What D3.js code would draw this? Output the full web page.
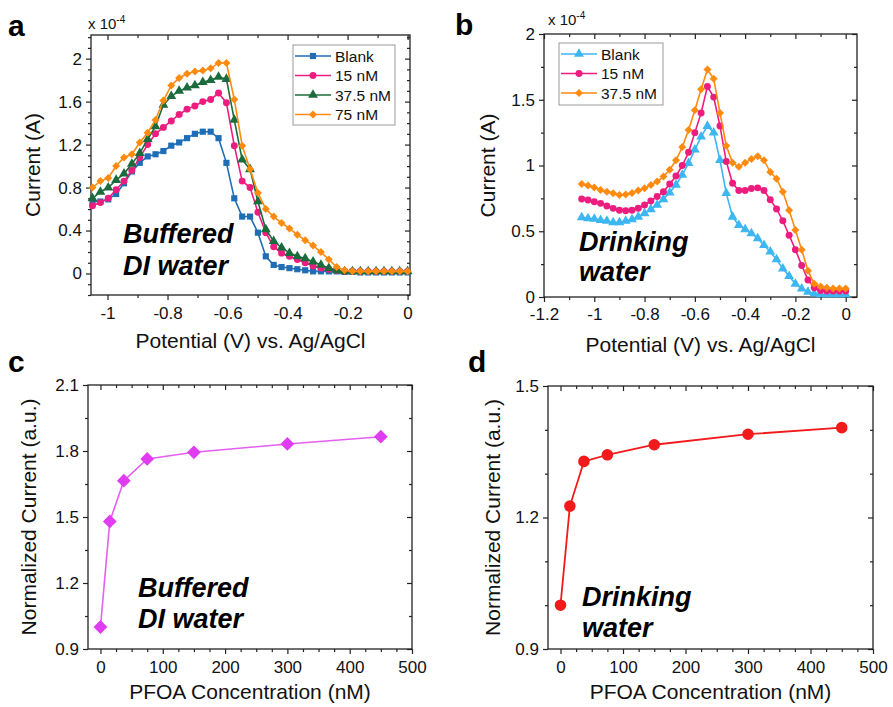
<!DOCTYPE html>
<html>
<head>
<meta charset="utf-8">
<script src="https://cdn.jsdelivr.net/npm/d3@7"></script>
<style>
  body { margin: 0; background: #fff; }
</style>
</head>
<body>
<svg id="fig" width="893" height="707"></svg>
<script>
const FONT = '"Liberation Sans", Arial, Helvetica, sans-serif';

// ---- panel a : buffered DI water, current x 1e-4 A ----
const potStartA = -1.05, potStepA = 0.02625;
const blankA = [0.67, 0.67, 0.69, 0.74, 0.84, 0.95, 1.03, 1.09, 1.11, 1.14,
  1.19, 1.22, 1.26, 1.30, 1.32, 1.32, 1.26, 1.03, 0.70, 0.53,
  0.53, 0.38, 0.16, 0.08, 0.06, 0.05, 0.04, 0.03, 0.02, 0.02,
  0.02, 0.02, 0.015, 0.015, 0.01, 0.01, 0.01, 0.01, 0.01, 0.01, 0.01];
const nm15A = [0.63, 0.66, 0.70, 0.78, 0.86, 0.96, 1.08, 1.20, 1.30, 1.36,
  1.42, 1.48, 1.53, 1.56, 1.60, 1.62, 1.68, 1.59, 1.19, 0.86,
  0.80, 0.57, 0.38, 0.25, 0.19, 0.16, 0.13, 0.10, 0.07, 0.05,
  0.04, 0.03, 0.02, 0.02, 0.02, 0.02, 0.02, 0.02, 0.02, 0.02, 0.02];
const nm375A = [0.70, 0.76, 0.80, 0.87, 0.93, 1.02, 1.12, 1.25, 1.37, 1.57,
  1.65, 1.70, 1.73, 1.75, 1.78, 1.80, 1.83, 1.81, 1.43, 1.06,
  0.97, 0.67, 0.41, 0.30, 0.24, 0.19, 0.16, 0.14, 0.11, 0.08,
  0.05, 0.03, 0.02, 0.02, 0.02, 0.02, 0.02, 0.02, 0.02, 0.02, 0.02];
const nm75A = [0.80, 0.86, 0.89, 1.00, 1.08, 1.11, 1.22, 1.31, 1.43, 1.61,
  1.75, 1.82, 1.86, 1.88, 1.89, 1.91, 1.96, 1.96, 1.62, 1.19,
  0.97, 0.75, 0.60, 0.53, 0.47, 0.42, 0.36, 0.31, 0.26, 0.20,
  0.13, 0.06, 0.03, 0.02, 0.02, 0.02, 0.02, 0.02, 0.02, 0.02, 0.02];
const namesA = ['Blank', '15 nM', '37.5 nM', '75 nM'];

// ---- panel b : drinking water ----
const potStartB = -1.05, potStepB = 0.025;
const blankB = [0.606, 0.598, 0.593, 0.585, 0.578, 0.567, 0.567, 0.578, 0.59, 0.61,
  0.636, 0.667, 0.70, 0.743, 0.794, 0.852, 0.929, 1.018, 1.12, 1.22,
  1.30, 1.25, 1.04, 0.79, 0.61, 0.547, 0.514, 0.483, 0.445, 0.394,
  0.344, 0.285, 0.216, 0.158, 0.10, 0.064, 0.038, 0.025, 0.02, 0.02,
  0.02, 0.02, 0.02];
const nm15B = [0.746, 0.738, 0.725, 0.712, 0.692, 0.674, 0.66, 0.656, 0.66, 0.675,
  0.70, 0.73, 0.765, 0.80, 0.86, 0.92, 1.00, 1.10, 1.25, 1.40,
  1.60, 1.52, 1.30, 1.03, 0.865, 0.81, 0.81, 0.825, 0.83, 0.81,
  0.74, 0.67, 0.58, 0.47, 0.36, 0.24, 0.13, 0.07, 0.05, 0.045,
  0.045, 0.045, 0.045];
const nm375B = [0.86, 0.847, 0.832, 0.814, 0.80, 0.789, 0.776, 0.78, 0.79, 0.81,
  0.827, 0.852, 0.878, 0.916, 0.967, 1.04, 1.14, 1.27, 1.42, 1.58,
  1.73, 1.66, 1.40, 1.15, 1.02, 0.99, 1.02, 1.05, 1.07, 1.04,
  0.95, 0.90, 0.80, 0.66, 0.51, 0.36, 0.20, 0.10, 0.08, 0.07,
  0.065, 0.065, 0.065];
const namesB = ['Blank', '15 nM', '37.5 nM'];

// ---- panels c, d : normalized current vs PFOA ----
const concs = [0, 15, 37.5, 75, 150, 300, 450];
const normBuffered = [1.0, 1.48, 1.665, 1.764, 1.794, 1.832, 1.865];
const normDrinking = [1.0, 1.226, 1.328, 1.343, 1.366, 1.390, 1.405];

// tick labels
const ticksAx = [-1, -0.8, -0.6, -0.4, -0.2, 0];
const ticksAy = [0, 0.4, 0.8, 1.2, 1.6, 2];
const ticksBx = [-1.2, -1, -0.8, -0.6, -0.4, -0.2, 0];
const ticksBy = [0, 0.5, 1, 1.5, 2];
const ticksConc = [0, 100, 200, 300, 400, 500];
const ticksCy = [0.9, 1.2, 1.5, 1.8, 2.1];
const ticksDy = [0.9, 1.2, 1.5];

const svg = d3.select('#fig');

function minorTicks(domain, step, majors) {
  const lo = Math.min(...domain), hi = Math.max(...domain);
  return d3.range(Math.ceil(lo / step - 1e-6), Math.floor(hi / step + 1e-6) + 1)
    .map(k => +(k * step).toFixed(5))
    .filter(v => !majors.some(m => Math.abs(m - v) < 1e-6));
}

function drawAxes(x, y, o) {
  const [xl, xr] = x.range(), [yb, yt] = y.range();
  const xMin = minorTicks(x.domain(), o.xMinor, o.xTicks);
  const yMin = minorTicks(y.domain(), o.yMinor, o.yTicks);
  const fmt = d => String(d);
  const style = sel => {
    sel.select('.domain').remove();
    sel.selectAll('line').attr('stroke', '#222').attr('stroke-width', 1.2);
    sel.selectAll('text').attr('font-size', o.tickFont).attr('font-family', FONT).attr('fill', '#111');
  };
  const g = svg.append('g');
  g.append('g').attr('transform', `translate(0,${yb})`)
    .call(d3.axisBottom(x).tickValues(o.xTicks).tickSize(5).tickPadding(o.xPad).tickFormat(fmt)).call(style);
  g.append('g').attr('transform', `translate(0,${yb})`)
    .call(d3.axisBottom(x).tickValues(xMin).tickSize(3).tickFormat('')).call(style);
  g.append('g').attr('transform', `translate(0,${yt})`)
    .call(d3.axisTop(x).tickValues(o.xTicks).tickSize(-5).tickFormat('')).call(style);
  g.append('g').attr('transform', `translate(0,${yt})`)
    .call(d3.axisTop(x).tickValues(xMin).tickSize(-3).tickFormat('')).call(style);
  g.append('g').attr('transform', `translate(${xl},0)`)
    .call(d3.axisLeft(y).tickValues(o.yTicks).tickSize(5).tickPadding(o.yPad).tickFormat(fmt)).call(style);
  g.append('g').attr('transform', `translate(${xl},0)`)
    .call(d3.axisLeft(y).tickValues(yMin).tickSize(3).tickFormat('')).call(style);
  g.append('g').attr('transform', `translate(${xr},0)`)
    .call(d3.axisRight(y).tickValues(o.yTicks).tickSize(-5).tickFormat('')).call(style);
  g.append('g').attr('transform', `translate(${xr},0)`)
    .call(d3.axisRight(y).tickValues(yMin).tickSize(-3).tickFormat('')).call(style);
  g.append('rect').attr('x', xl).attr('y', yt).attr('width', xr - xl).attr('height', yb - yt)
    .attr('fill', 'none').attr('stroke', '#222').attr('stroke-width', 1.3);

  // axis titles
  svg.append('text').attr('x', (xl + xr) / 2).attr('y', o.xTitleY).attr('text-anchor', 'middle')
    .attr('font-family', FONT).attr('font-size', 21).attr('fill', '#111').text(o.xTitle);
  svg.append('text').attr('transform', `translate(${o.yTitleX},${(yb + yt) / 2}) rotate(-90)`)
    .attr('text-anchor', 'middle').attr('font-family', FONT).attr('font-size', 21).attr('fill', '#111').text(o.yTitle);
}

const SQUARE = d3.symbolSquare, CIRCLE = d3.symbolCircle, TRI = d3.symbolTriangle;

function marker(sel, shape, size) {
  // diamonds are squares turned 45 degrees, as in Origin
  const type = shape === 'diamond' ? SQUARE : shape;
  sel.attr('d', d3.symbol().type(type).size(size)());
}

function drawSeries(x, y, xs, ys, s) {
  const pts = xs.map((v, i) => [v, ys[i]]);
  svg.append('path').datum(pts)
    .attr('fill', 'none').attr('stroke', s.line || s.color).attr('stroke-width', s.lw || 1.6)
    .attr('d', d3.line().x(d => x(d[0])).y(d => y(d[1])));
  svg.append('g').selectAll('path').data(pts).join('path')
    .call(marker, s.shape, s.size)
    .attr('transform', d => `translate(${x(d[0])},${y(d[1])})` + (s.shape === 'diamond' ? ' rotate(45)' : ''))
    .attr('fill', s.color);
}

function drawLegend(x0, y0, w, h, rows, names) {
  svg.append('rect').attr('x', x0).attr('y', y0).attr('width', w).attr('height', h)
    .attr('fill', '#fff').attr('stroke', '#9a9a9a').attr('stroke-width', 1);
  rows.forEach((s, i) => {
    const cy = y0 + 11 + i * 19.5;
    svg.append('line').attr('x1', x0 + 2).attr('x2', x0 + 38).attr('y1', cy).attr('y2', cy)
      .attr('stroke', s.color).attr('stroke-width', 1.6);
    svg.append('path').call(marker, s.shape, s.size)
      .attr('transform', `translate(${x0 + 20},${cy})` + (s.shape === 'diamond' ? ' rotate(45)' : ''))
      .attr('fill', s.color);
    svg.append('text').attr('x', x0 + 42).attr('y', cy + 5.5).attr('font-family', FONT)
      .attr('font-size', 15.5).attr('fill', '#111').text(names[i]);
  });
}

function label(x, y, txt, size, weight, italic) {
  svg.append('text').attr('x', x).attr('y', y).attr('font-family', FONT)
    .attr('font-size', size).attr('font-weight', weight || 'normal')
    .attr('font-style', italic ? 'italic' : 'normal').attr('fill', '#000').text(txt);
}

function scaleLabel(x, y) {
  const t = svg.append('text').attr('x', x).attr('y', y).attr('font-family', FONT)
    .attr('font-size', 15).attr('fill', '#111');
  t.append('tspan').text('x 10');
  t.append('tspan').attr('font-size', 10).attr('dy', -6).text('-4');
}

// ---- panel a ----
const xA = d3.scaleLinear().domain([-1.055, 0.008]).range([91, 410]);
const yA = d3.scaleLinear().domain([-0.2, 2.22]).range([295, 35]);
drawAxes(xA, yA, { xTicks: ticksAx, xMinor: 0.1, yTicks: ticksAy, yMinor: 0.1, tickFont: 17,
  xPad: 7, yPad: 4, xTitle: 'Potential (V) vs. Ag/AgCl', xTitleY: 348, yTitle: 'Current (A)', yTitleX: 40 });
const potA = blankA.map((_, i) => potStartA + i * potStepA);
const seriesA = [
  { color: '#1f6db5', shape: SQUARE, size: 38 },
  { color: '#ec1d7f', shape: CIRCLE, size: 38 },
  { color: '#1c6b3c', shape: TRI, size: 42 },
  { color: '#ff8a10', shape: 'diamond', size: 32 }
];
[blankA, nm15A, nm375A, nm75A].forEach((ys, k) => drawSeries(xA, yA, potA, ys, seriesA[k]));
drawLegend(293, 45, 102, 80, seriesA, namesA);
scaleLabel(88, 29);
label(123, 243, 'Buffered', 27, 'bold', true);
label(123, 275, 'DI water', 27, 'bold', true);
label(8, 36, 'a', 30, 'bold');

// ---- panel b ----
const xB = d3.scaleLinear().domain([-1.2, 0.045]).range([544, 857]);
const yB = d3.scaleLinear().domain([0, 2]).range([297, 34]);
drawAxes(xB, yB, { xTicks: ticksBx, xMinor: 0.1, yTicks: ticksBy, yMinor: 0.25, tickFont: 17,
  xPad: 6, yPad: 4, xTitle: 'Potential (V) vs. Ag/AgCl', xTitleY: 352, yTitle: 'Current (A)', yTitleX: 495 });
const potB = blankB.map((_, i) => potStartB + i * potStepB);
const seriesB = [
  { color: '#3db6f2', shape: TRI, size: 42 },
  { color: '#ec1d7f', shape: CIRCLE, size: 38 },
  { color: '#ff8a10', shape: 'diamond', size: 32 }
];
[blankB, nm15B, nm375B].forEach((ys, k) => drawSeries(xB, yB, potB, ys, seriesB[k]));
drawLegend(559, 43, 104, 62, seriesB, namesB);
scaleLabel(548, 25);
label(579, 251, 'Drinking', 27, 'bold', true);
label(579, 281, 'water', 27, 'bold', true);
label(455, 35, 'b', 30, 'bold');

// ---- panel c ----
const xC = d3.scaleLinear().domain([-20, 500]).range([88, 412]);
const yC = d3.scaleLinear().domain([0.9, 2.1]).range([649, 385]);
drawAxes(xC, yC, { xTicks: ticksConc, xMinor: 25, yTicks: ticksCy, yMinor: 0.15, tickFont: 17,
  xPad: 7, yPad: 4, xTitle: 'PFOA Concentration (nM)', xTitleY: 699, yTitle: 'Normalized Current (a.u.)', yTitleX: 36 });
drawSeries(xC, yC, concs, normBuffered, { color: '#e03cf2', line: '#e55ff3', shape: 'diamond', size: 95, lw: 1.6 });
label(138, 597, 'Buffered', 27, 'bold', true);
label(138, 628, 'DI water', 27, 'bold', true);
label(8, 372, 'c', 30, 'bold');

// ---- panel d ----
const xD = d3.scaleLinear().domain([-20, 500]).range([548, 873]);
const yD = d3.scaleLinear().domain([0.9, 1.5]).range([649, 386]);
drawAxes(xD, yD, { xTicks: ticksConc, xMinor: 25, yTicks: ticksDy, yMinor: 0.1, tickFont: 17,
  xPad: 7, yPad: 4, xTitle: 'PFOA Concentration (nM)', xTitleY: 699, yTitle: 'Normalized Current (a.u.)', yTitleX: 500 });
drawSeries(xD, yD, concs, normDrinking, { color: '#f21a1a', shape: CIRCLE, size: 105, lw: 1.8 });
label(582, 606, 'Drinking', 27, 'bold', true);
label(582, 637, 'water', 27, 'bold', true);
label(468, 372, 'd', 30, 'bold');
</script>
</body>
</html>
